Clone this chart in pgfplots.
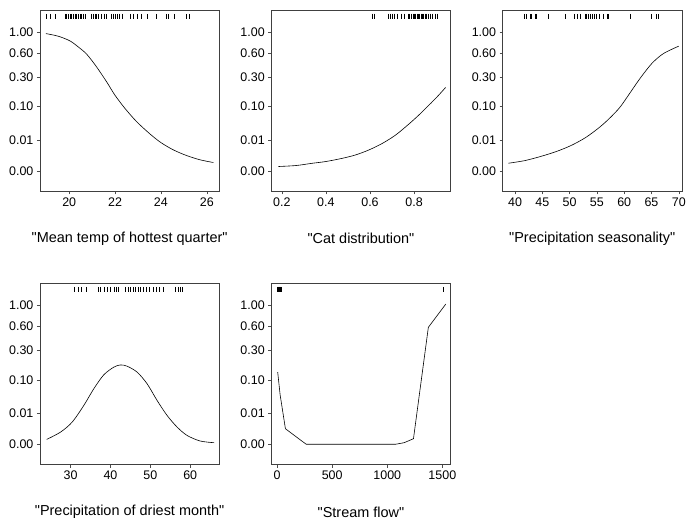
\documentclass[border=0pt]{standalone}
\usepackage{fontspec}
\setmainfont{Liberation Sans}[Ligatures=TeXOff]
\usepackage{pgfplots}
\pgfplotsset{compat=1.18}

\pgfplotsset{
  panel/.style={
    scale only axis, width=180pt, height=182pt,
    anchor=south west,
    ymin=0, ymax=182,
    ytick={20,51.7,85,114.4,138.4,160},
    yticklabels={0.00,0.01,0.10,0.30,0.60,1.00},
    xtick pos=left, ytick pos=left,
    tick align=outside, major tick length=3pt,
    every tick/.style={black!70, line width=0.5pt},
    axis line style={black!75, line width=0.6pt},
    tick label style={font=\fontsize{12.5}{14}\selectfont},
    /pgf/number format/assume math mode=true,
    /pgf/number format/1000 sep={},
    xlabel style={font=\fontsize{14.5}{17}\selectfont, at={(axis description cs:0.5,0)}, anchor=center, yshift=-47.5pt},
  },
  curve/.style={black, line width=0.6pt, smooth, tension=0.5},
  rug/.style={only marks, mark=|, mark size=2.7pt, mark options={line width=0.4pt, black}},
}

\begin{document}
\begin{tikzpicture}
\path (0pt,0pt) rectangle (689pt,520pt);

% Mean temp of hottest quarter
\begin{axis}[panel, at={(40pt,328pt)}, xmin=18.72, xmax=26.55,
  xtick={20,22,24,26}, xlabel={"Mean temp of hottest quarter"}]
\addplot[curve] coordinates {
(18.98,158.3) (19.52,155.7) (20.03,151) (20.39,145) (20.76,137.7) (21.19,125)
(21.63,110) (21.99,96.7) (22.43,83.3) (22.94,70) (23.52,57.7) (24.0,49)
(24.54,41.7) (25.12,36) (25.71,31.7) (26.29,29)};
\addplot[rug] table[y expr=175.5] {
x
19.01
19.16
19.37
19.81
19.88
19.96
20.03
20.10
20.17
20.25
20.32
20.39
20.47
20.54
20.61
20.68
20.98
21.05
21.12
21.19
21.27
21.41
21.51
21.63
21.85
21.92
21.99
22.10
22.18
22.29
22.68
22.79
22.97
23.12
23.38
23.81
24.21
24.32
24.57
25.12
25.24
};
\end{axis}

% Cat distribution
\begin{axis}[panel, at={(272pt,328pt)}, xmin=0.152, xmax=0.966,
  xtick={0.2,0.4,0.6,0.8}, xticklabels={0.2,0.4,0.6,0.8}, xlabel={"Cat distribution"}]
\addplot[curve] coordinates {
(0.185,25) (0.265,26) (0.34,28.3) (0.4,30) (0.476,33.3) (0.536,36.7)
(0.596,41.7) (0.657,48.3) (0.717,56.7) (0.777,67.7) (0.822,76.7)
(0.868,86.7) (0.905,95) (0.943,104.3)};
\addplot[rug] table[y expr=175.5] {
x
0.608
0.617
0.684
0.693
0.702
0.712
0.724
0.740
0.755
0.773
0.780
0.788
0.795
0.801
0.807
0.813
0.819
0.825
0.831
0.837
0.843
0.850
0.857
0.865
0.874
0.883
0.895
0.907
};
\end{axis}

% Precipitation seasonality
\begin{axis}[panel, at={(504pt,328pt)}, xmin=37.7, xmax=70.6,
  xtick={40,45,...,70}, xlabel={"Precipitation seasonality"}]
\addplot[curve] coordinates {
(38.76,28.3) (41.86,31) (45.26,36) (48.04,41) (50.5,46.7) (53.0,54.3)
(55.47,64.3) (57.3,73.3) (59.2,84.3) (61.0,98.3) (62.9,113.3)
(65.06,128.3) (67.2,138.3) (70,145.7)};
\addplot[rug] table[y expr=175.5] {
x
41.73
41.98
42.79
43.03
43.71
43.96
46.07
49.16
50.83
51.45
51.89
52.81
53.12
53.43
53.80
54.11
54.49
54.92
55.48
56.22
56.84
57.08
61.05
64.88
65.87
66.18
};
\end{axis}

% Precipitation of driest month
\begin{axis}[panel, at={(40pt,54pt)}, xmin=22.3, xmax=67.3,
  xtick={30,40,50,60}, xlabel={"Precipitation of driest month"}]
\addplot[curve] coordinates {
(24,25.3) (27.5,32.7) (30.4,42.7) (33.3,59.3) (35.8,76) (38.3,90)
(40.8,97.7) (42.5,100) (44.2,98.7) (46.7,92.7) (49.2,81) (51.7,64.3)
(54.2,49.3) (56.7,37.7) (59.2,29.3) (62.5,23.7) (66,22)};
\addplot[rug] table[y expr=175.5] {
x
31
31.83
32.67
34
36.83
37.5
38.33
39.17
40
40.83
41.5
41.92
43.75
44.33
45
45.67
46.25
46.83
47.5
48.17
49
49.83
50.67
51.5
52.33
53.17
56.25
56.92
57.5
58
};
\end{axis}

% Stream flow
\begin{axis}[panel, at={(272pt,54pt)}, xmin=-54, xmax=1576,
  xtick={0,500,1000,1500}, xlabel={"Stream flow"}]
\addplot[black, line width=0.6pt] coordinates {
(5,92.7) (27,70) (75,36) (263,20.5) (1078,20.5) (1153,22) (1238,26)
(1373,137.7) (1531,161)};
\addplot[rug] table[y expr=175.5] {
x
2
6
10
14
18
22
26
30
34
1510
};
\end{axis}
\end{tikzpicture}
\end{document}
